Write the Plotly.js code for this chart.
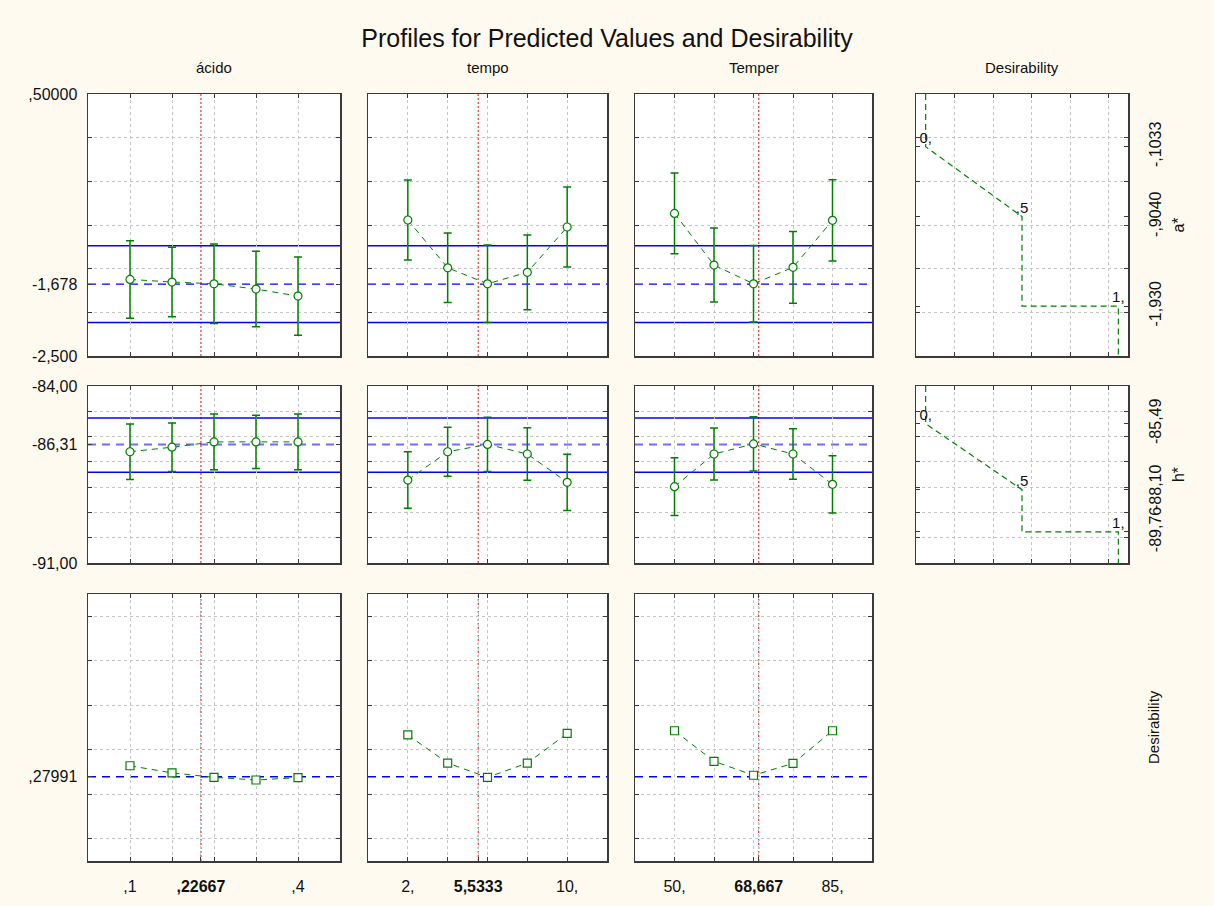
<!DOCTYPE html>
<html>
<head>
<meta charset="utf-8">
<script src="https://cdn.plot.ly/plotly-3.0.1.min.js"></script>
<style>html,body{margin:0;padding:0;background:#FFFAEF;}#chart{width:1214px;height:906px;}</style>
</head>
<body>
<div id="chart"></div>
<script>
// ---------------- DATA ----------------
const factorNames = ['ácido', 'tempo', 'Temper'];
const acidoLevels = [0.1, 0.175, 0.25, 0.325, 0.4];
const tempoLevels = [2, 4, 6, 8, 10];
const temperLevels = [50, 58.75, 67.5, 76.25, 85];
const currentX = [0.22667, 5.5333, 68.667];
const currentXText = [',22667', '5,5333', '68,667'];
const firstLevelText = [',1', '2,', '50,'];
const lastLevelText = [',4', '10,', '85,'];

// a* predicted values and confidence half-widths
const aStarAcido = [-1.623, -1.653, -1.673, -1.734, -1.814];
const aStarAcidoCI = [0.444, 0.397, 0.455, 0.432, 0.447];
const aStarTempo = [-0.943, -1.490, -1.673, -1.542, -1.023];
const aStarTempoCI = [0.458, 0.397, 0.443, 0.427, 0.458];
const aStarTemper = [-0.867, -1.459, -1.673, -1.485, -0.947];
const aStarTemperCI = [0.462, 0.424, 0.439, 0.410, 0.466];
const aStarCurrent = -1.678;
const aStarCurrentCI = [-2.115, -1.238];

// h* predicted values and confidence half-widths
const hStarAcido = [-86.60, -86.42, -86.21, -86.21, -86.21];
const hStarAcidoCI = [1.10, 0.96, 1.10, 1.05, 1.10];
const hStarTempo = [-87.72, -86.60, -86.31, -86.69, -87.81];
const hStarTempoCI = [1.115, 0.97, 1.07, 1.04, 1.11];
const hStarTemper = [-87.98, -86.69, -86.29, -86.69, -87.89];
const hStarTemperCI = [1.14, 1.03, 1.075, 1.00, 1.13];
const hStarCurrent = -86.31;
const hStarCurrentCI = [-87.413, -85.265];

// overall desirability
const desirAcido = [0.317, 0.293, 0.278, 0.269, 0.277];
const desirTempo = [0.421, 0.326, 0.278, 0.326, 0.426];
const desirTemper = [0.435, 0.332, 0.285, 0.325, 0.435];
const desirCurrent = 0.27991;

// desirability function specs (response value at d = 0, 0.5, 1)
const desLevels = [0, 0.5, 1];
const desLabels = ['0,', ',5', '1,'];
const aStarDesVals = [-0.1033, -0.9040, -1.930];
const aStarDesText = ['-,1033', '-,9040', '-1,930'];
const hStarDesVals = [-85.49, -88.10, -89.768];
const hStarDesText = ['-85,49', '-88,10', '-89,76'];

// row y-axis tick labels
const aStarTickVals = [0.5, -1.678, -2.5];
const aStarTickText = [',50000', '-1,678', '-2,500'];
const hStarTickVals = [-84, -86.31, -91];
const hStarTickText = ['-84,00', '-86,31', '-91,00'];
const desTickVals = [0.27991];
const desTickText = [',27991'];

// ---------------- STYLE / GEOMETRY ----------------
const W = 1214, H = 906;
const GREEN = '#008000', BLUE = '#0000ff', RED = '#ff0000';
const GRIDC = '#c4c4c4', LINEC = '#3a3a3a';
const FONT = 'Liberation Sans, Arial, sans-serif';
const colPx = [[88, 340], [368, 607], [635, 872], [916, 1128]];
const rowPx = [[94, 356], [386, 563], [594, 861]];
const xRanges = [[0.025, 0.475], [0, 12], [41.25, 93.75], [-0.05, 1.05]];
const levels = [acidoLevels, tempoLevels, temperLevels];
const desGrid = [0.15, 0.35, 0.55, 0.75, 0.95];
const yRanges = [[-2.5, 0.5], [-91, -84], [-0.004, 0.896]];
const yGrid = [[-2, -1.5, -1, -0.5, 0], [-90, -89, -88, -87, -86, -85], [0.071, 0.221, 0.371, 0.521, 0.671, 0.821]];
const rowTickVals = [aStarTickVals, hStarTickVals, desTickVals];
const rowTickText = [aStarTickText, hStarTickText, desTickText];

const rowData = [
  {vals: [aStarAcido, aStarTempo, aStarTemper], ci: [aStarAcidoCI, aStarTempoCI, aStarTemperCI], cur: aStarCurrent, curCI: aStarCurrentCI, des: aStarDesVals, desText: aStarDesText, title: 'a*'},
  {vals: [hStarAcido, hStarTempo, hStarTemper], ci: [hStarAcidoCI, hStarTempoCI, hStarTemperCI], cur: hStarCurrent, curCI: hStarCurrentCI, des: hStarDesVals, desText: hStarDesText, title: 'h*'},
  {vals: [desirAcido, desirTempo, desirTemper], ci: null, cur: desirCurrent}
];

const traces = [];
const shapes = [];
const annotations = [];
const layout = {
  width: W, height: H,
  margin: {l: 0, r: 0, t: 0, b: 0},
  paper_bgcolor: '#FFFAEF', plot_bgcolor: '#ffffff',
  showlegend: false,
  font: {family: FONT, color: '#111', size: 16},
  title: {text: 'Profiles for Predicted Values and Desirability', font: {family: FONT, size: 25, color: '#111'},
          x: 0.5, xanchor: 'center', y: 1 - 38 / H, yanchor: 'middle', xref: 'paper', yref: 'paper'}
};

function baseAxis() {
  return {showline: true, linecolor: LINEC, linewidth: 1.5, mirror: 'allticks', zeroline: false,
          showgrid: true, gridcolor: GRIDC, griddash: 'dot', gridwidth: 1,
          ticks: 'inside', ticklen: 4, tickcolor: LINEC, tickwidth: 1, fixedrange: true,
          tickfont: {family: FONT, size: 16, color: '#111'}};
}

let k = 0;
for (let r = 0; r < 3; r++) {
  const nCols = r < 2 ? 4 : 3;
  for (let c = 0; c < nCols; c++) {
    k++;
    const s = k === 1 ? '' : String(k);
    const xa = baseAxis(), ya = baseAxis();
    xa.domain = [colPx[c][0] / W, colPx[c][1] / W];
    xa.range = xRanges[c];
    xa.anchor = 'y' + s;
    ya.domain = [1 - rowPx[r][1] / H, 1 - rowPx[r][0] / H];
    ya.range = yRanges[r];
    ya.anchor = 'x' + s;

    const xg = c < 3 ? levels[c] : desGrid;
    if (r === 2 && c < 3) {
      xa.tickmode = 'array';
      xa.tickvals = [levels[c][0], currentX[c], levels[c][4]];
      xa.ticktext = [firstLevelText[c], '<b>' + currentXText[c] + '</b>', lastLevelText[c]];
      xa.ticklabelstandoff = 10;
      xa.minor = {tickmode: 'array', tickvals: xg, ticks: 'inside', ticklen: 4, tickcolor: LINEC,
                  showgrid: true, gridcolor: GRIDC, griddash: 'dot', gridwidth: 1};
    } else {
      xa.tickmode = 'array'; xa.tickvals = xg; xa.showticklabels = false;
    }

    const yg = yGrid[r];
    const yMinor = {tickmode: 'array', tickvals: yg, ticks: 'inside', ticklen: 4, tickcolor: LINEC,
                    showgrid: true, gridcolor: GRIDC, griddash: 'dot', gridwidth: 1};
    if (c === 0) {
      ya.tickmode = 'array'; ya.tickvals = rowTickVals[r]; ya.ticktext = rowTickText[r];
      ya.ticklabelstandoff = 6;
      ya.showgrid = false;
      ya.minor = yMinor;
    } else if (c === 3) {
      ya.side = 'right';
      ya.tickmode = 'array'; ya.tickvals = rowData[r].des; ya.ticktext = rowData[r].desText;
      ya.tickangle = -90;
      ya.ticklabelstandoff = 12;
      ya.showgrid = false;
      ya.minor = yMinor;
      ya.title = {text: rowData[r].title, font: {family: FONT, size: 16, color: '#111'}, standoff: 10};
    } else {
      ya.tickmode = 'array'; ya.tickvals = yg; ya.showticklabels = false;
    }
    layout['xaxis' + s] = xa;
    layout['yaxis' + s] = ya;

    const xr = 'x' + s, yr = 'y' + s;
    if (c < 3) {
      const d = rowData[r];
      const t = {
        type: 'scatter', mode: 'lines+markers', xaxis: xr, yaxis: yr,
        x: levels[c], y: d.vals[c],
        line: {color: GREEN, width: 1, dash: '6px,5px'},
        marker: {symbol: r < 2 ? 'circle' : 'square', size: 8, color: '#ffffff', line: {color: GREEN, width: 1.2}},
        cliponaxis: false, hoverinfo: 'skip'
      };
      if (d.ci) {
        t.error_y = {type: 'data', array: d.ci[c], visible: true, color: GREEN, thickness: 1.5, width: 4};
      }
      traces.push(t);

      // current factor setting (red)
      shapes.push({type: 'line', xref: xr, yref: yr + ' domain', x0: currentX[c], x1: currentX[c], y0: 0, y1: 1,
                   line: {color: RED, width: 1, dash: '2px,2px'}, layer: 'below'});
      // predicted value and CI (blue)
      shapes.push({type: 'line', xref: xr + ' domain', yref: yr, x0: 0, x1: 1, y0: d.cur, y1: d.cur,
                   line: {color: r === 1 ? '#6e6eff' : BLUE, width: r === 1 ? 2 : 1.3, dash: '8px,6px'}, layer: 'below'});
      if (d.curCI) {
        d.curCI.forEach(v => shapes.push({type: 'line', xref: xr + ' domain', yref: yr, x0: 0, x1: 1, y0: v, y1: v,
                   line: {color: BLUE, width: 1.5}, layer: 'below'}));
      }
    } else {
      // desirability function panel
      const dv = rowData[r].des;
      const yTop = yRanges[r][1], yBot = yRanges[r][0];
      traces.push({
        type: 'scatter', mode: 'lines', xaxis: xr, yaxis: yr,
        x: [desLevels[0], desLevels[0], desLevels[1], desLevels[1], desLevels[2], desLevels[2]],
        y: [yTop, dv[0], dv[1], dv[2], dv[2], yBot],
        line: {color: GREEN, width: 1.2, dash: '6px,4px'}, hoverinfo: 'skip'
      });
      traces.push({
        type: 'scatter', mode: 'text', xaxis: xr, yaxis: yr,
        x: desLevels, y: dv, text: desLabels, textposition: 'top center',
        textfont: {family: FONT, size: 15, color: '#111'}, cliponaxis: false, hoverinfo: 'skip'
      });
    }
  }
}

// column headers
const headers = factorNames.concat(['Desirability']);
headers.forEach((h, c) => {
  annotations.push({text: h, xref: 'paper', yref: 'paper', x: (colPx[c][0] + colPx[c][1]) / 2 / W, y: 1 - 68 / H,
                    xanchor: 'center', yanchor: 'middle', showarrow: false, font: {family: FONT, size: 15, color: '#111'}});
});
// row label for the desirability row
annotations.push({text: 'Desirability', xref: 'paper', yref: 'paper', x: 1153 / W, y: 1 - 727 / H, textangle: -90,
                  xanchor: 'center', yanchor: 'middle', showarrow: false, font: {family: FONT, size: 15, color: '#111'}});

layout.shapes = shapes;
layout.annotations = annotations;

Plotly.newPlot('chart', traces, layout, {staticPlot: true, displayModeBar: false});
</script>
</body>
</html>
